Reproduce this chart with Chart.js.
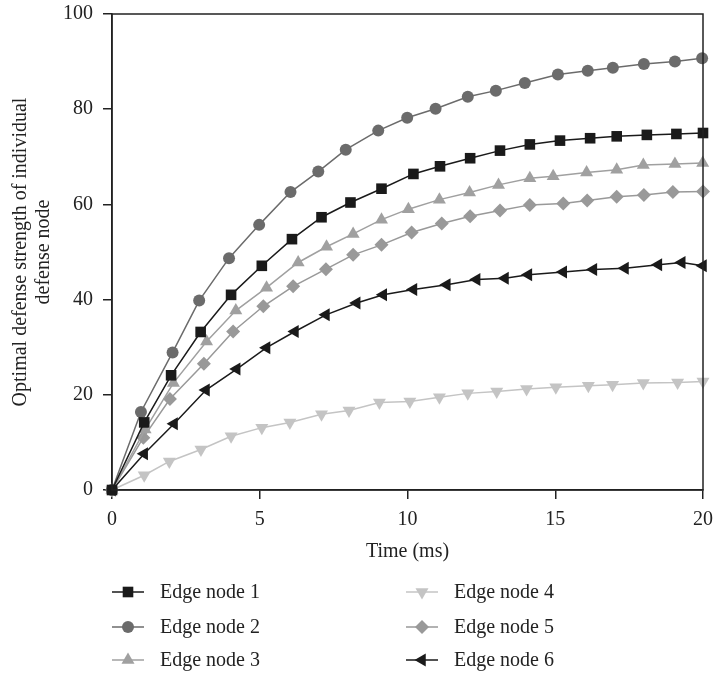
<!DOCTYPE html>
<html lang="en">
<head>
    <title>Optimal defense strength</title>
    <meta charset="utf-8">
    <script src="https://cdn.jsdelivr.net/npm/chart.js@4.4.1/dist/chart.umd.min.js"></script>
    <style>
        body { margin: 0; background: #fff; }
    </style>
</head>
<body>

<canvas id="line-chart" width="713" height="674"></canvas>

<script>
// values (time in ms, strength)
var node1Time = [0, 1.09, 2.0, 3.0, 4.03, 5.07, 6.09, 7.09, 8.07, 9.12, 10.2, 11.1, 12.12, 13.13, 14.14, 15.16, 16.18, 17.08, 18.1, 19.1, 20.0];
var node1 = [0, 14.2, 24.1, 33.2, 41.0, 47.1, 52.7, 57.3, 60.4, 63.3, 66.4, 68.0, 69.7, 71.3, 72.6, 73.4, 73.9, 74.3, 74.6, 74.8, 75.0];

var node2Time = [0, 0.98, 2.05, 2.95, 3.96, 4.98, 6.04, 6.98, 7.91, 9.01, 9.99, 10.95, 12.04, 12.99, 13.97, 15.09, 16.1, 16.95, 18.0, 19.05, 19.97];
var node2 = [0, 16.4, 28.9, 39.8, 48.7, 55.7, 62.6, 66.9, 71.5, 75.5, 78.2, 80.1, 82.6, 83.9, 85.5, 87.3, 88.1, 88.7, 89.5, 90.0, 90.7];

var node3Time = [0, 1.12, 2.08, 3.2, 4.19, 5.23, 6.3, 7.26, 8.16, 9.12, 10.03, 11.08, 12.1, 13.08, 14.14, 14.93, 16.06, 17.08, 17.98, 19.05, 19.99];
var node3 = [0, 12.7, 22.5, 31.2, 37.7, 42.5, 47.8, 51.1, 53.8, 56.8, 59.0, 61.0, 62.5, 64.1, 65.5, 65.9, 66.7, 67.3, 68.3, 68.5, 68.7];

var node4Time = [0, 1.09, 1.94, 3.01, 4.03, 5.07, 6.02, 7.09, 8.02, 9.05, 10.08, 11.08, 12.04, 13.02, 14.03, 15.02, 16.12, 16.94, 17.98, 19.14, 20.0];
var node4 = [0, 3.1, 6.0, 8.5, 11.3, 13.1, 14.2, 15.9, 16.7, 18.4, 18.6, 19.5, 20.3, 20.7, 21.2, 21.6, 21.9, 22.1, 22.5, 22.6, 22.8];

var node5Time = [0, 1.06, 1.96, 3.11, 4.1, 5.12, 6.13, 7.24, 8.16, 9.12, 10.14, 11.16, 12.12, 13.13, 14.14, 15.27, 16.08, 17.08, 18.0, 18.98, 20.0];
var node5 = [0, 11.0, 19.1, 26.5, 33.3, 38.6, 42.8, 46.4, 49.4, 51.5, 54.1, 56.0, 57.5, 58.7, 59.9, 60.2, 60.8, 61.6, 62.0, 62.6, 62.7];

var node6Time = [0, 1.09, 2.1, 3.18, 4.22, 5.23, 6.19, 7.24, 8.28, 9.18, 10.2, 11.33, 12.34, 13.3, 14.09, 15.27, 16.29, 17.36, 18.49, 19.28, 20.0];
var node6 = [0, 7.6, 13.9, 21.0, 25.4, 29.9, 33.3, 36.8, 39.3, 41.0, 42.1, 43.1, 44.2, 44.5, 45.2, 45.8, 46.3, 46.6, 47.3, 47.8, 47.1];

var labels = ['Edge node 1', 'Edge node 2', 'Edge node 3', 'Edge node 4', 'Edge node 5', 'Edge node 6'];
var xTicks = [0, 5, 10, 15, 20];
var yTicks = [0, 20, 40, 60, 80, 100];

function pts(t, v) {
    var out = [];
    for (var i = 0; i < t.length; i++) out.push({x: t[i], y: v[i]});
    return out;
}

var styles = [
    {color: '#1a1a1a', point: 'rect', rot: 0, r: 7.5},
    {color: '#6b6b6b', point: 'circle', rot: 0, r: 6},
    {color: '#a0a0a0', point: 'triangle', rot: 0, r: 7.5},
    {color: '#c4c4c4', point: 'triangle', rot: 180, r: 7.5},
    {color: '#999999', point: 'rectRot', rot: 0, r: 7},
    {color: '#1a1a1a', point: 'triangle', rot: -90, r: 7.5}
];
var series = [pts(node1Time, node1), pts(node2Time, node2), pts(node3Time, node3),
              pts(node4Time, node4), pts(node5Time, node5), pts(node6Time, node6)];

var datasets = [];
for (var i = 0; i < series.length; i++) {
    datasets.push({
        label: labels[i],
        data: series[i],
        borderColor: styles[i].color,
        backgroundColor: styles[i].color,
        borderWidth: 1.5,
        pointStyle: styles[i].point,
        pointRotation: styles[i].rot,
        pointRadius: styles[i].r,
        pointBorderWidth: 0,
        fill: false,
        clip: false,
        tension: 0
    });
}

var serif = '"Liberation Serif", "DejaVu Serif", serif';

// frame round the plot + legend in two columns below
var framePlugin = {
    id: 'frame',
    afterDraw: function(chart) {
        var ctx = chart.ctx, a = chart.chartArea;
        ctx.save();
        ctx.strokeStyle = '#222';
        ctx.lineWidth = 1.5;
        ctx.strokeRect(a.left, a.top, a.right - a.left, a.bottom - a.top);

        var cols = [a.left, a.left + 294];
        var rows = [592, 627, 660];
        ctx.font = '20px ' + serif;
        ctx.textBaseline = 'middle';
        chart.data.datasets.forEach(function(ds, i) {
            var cx = cols[Math.floor(i / 3)], cy = rows[i % 3];
            ctx.strokeStyle = ds.borderColor;
            ctx.lineWidth = 1.5;
            ctx.beginPath();
            ctx.moveTo(cx, cy);
            ctx.lineTo(cx + 32, cy);
            ctx.stroke();
            ctx.fillStyle = ds.backgroundColor;
            Chart.helpers.drawPoint(ctx, {pointStyle: ds.pointStyle, rotation: ds.pointRotation, radius: ds.pointRadius, borderWidth: 0}, cx + 16, cy);
            ctx.fillStyle = '#222';
            ctx.fillText(ds.label, cx + 48, cy + 1);
        });
        ctx.restore();
    }
};

new Chart(document.getElementById('line-chart'), {
    type: 'line',
    data: {datasets: datasets},
    plugins: [framePlugin],
    options: {
        responsive: false,
        animation: false,
        layout: {padding: {left: 0, right: 10, top: 14, bottom: 104}},
        plugins: {legend: {display: false}, tooltip: {enabled: false}},
        scales: {
            x: {
                type: 'linear',
                min: 0, max: 20,
                afterBuildTicks: function(s) { s.ticks = xTicks.map(function(v) { return {value: v}; }); },
                afterFit: function(s) { s.height = 80; s.paddingLeft = 0; s.paddingRight = 0; },
                grid: {drawOnChartArea: false, tickLength: 9, color: '#222', lineWidth: 1.5},
                border: {color: '#222', width: 1.5},
                ticks: {color: '#222', font: {family: serif, size: 20}, padding: 9, maxRotation: 0},
                title: {display: true, text: 'Time (ms)', color: '#222', font: {family: serif, size: 20}, padding: {top: 0, bottom: 6}}
            },
            y: {
                min: 0, max: 100,
                afterBuildTicks: function(s) { s.ticks = yTicks.map(function(v) { return {value: v}; }); },
                afterFit: function(s) { s.width = 112; s.paddingTop = 0; s.paddingBottom = 0; },
                grid: {drawOnChartArea: false, tickLength: 9, color: '#222', lineWidth: 1.5},
                border: {color: '#222', width: 1.5},
                ticks: {color: '#222', font: {family: serif, size: 20}, padding: 10},
                title: {display: true, text: ['Optimal defense strength of individual', 'defense node'], color: '#222', font: {family: serif, size: 20, lineHeight: 1.15}, padding: {top: 9, bottom: 0}}
            }
        }
    }
});
</script>
</body>
</html>
